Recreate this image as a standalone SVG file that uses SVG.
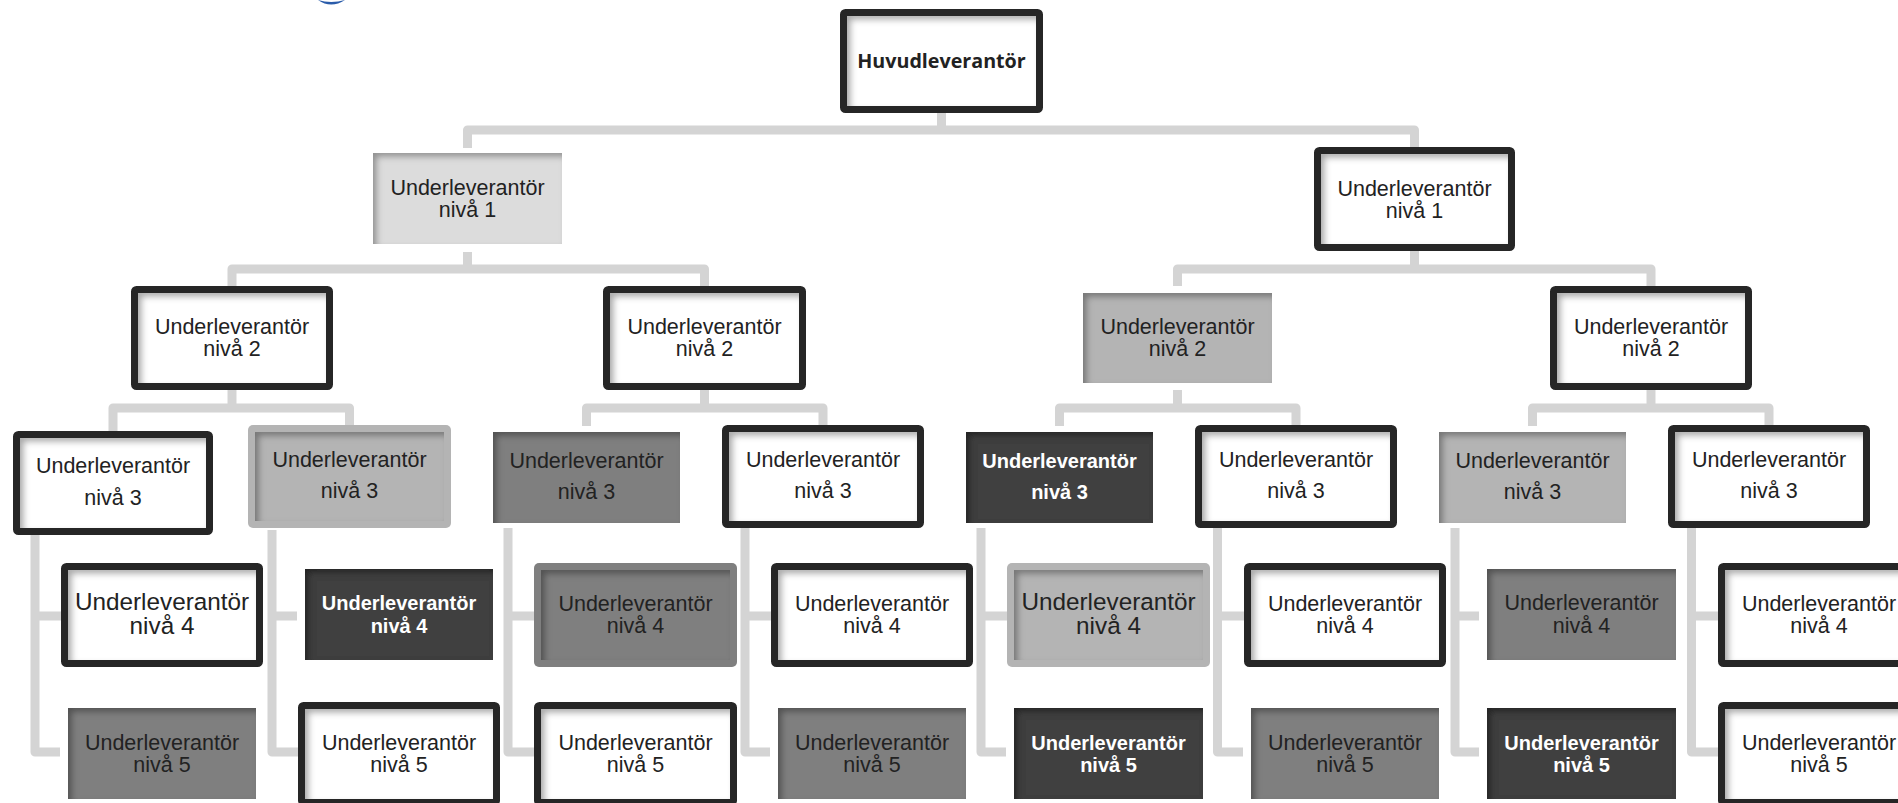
<svg xmlns="http://www.w3.org/2000/svg" width="1898" height="803" viewBox="0 0 1898 803">
<defs>
<filter id="inset" x="-10%" y="-10%" width="120%" height="120%">
<feFlood flood-color="#000" flood-opacity="0.6" result="f"/>
<feComposite in="f" in2="SourceAlpha" operator="out" result="o"/>
<feGaussianBlur in="o" stdDeviation="3" result="b"/>
<feOffset in="b" dx="4" dy="4" result="s"/>
<feComposite in="s" in2="SourceAlpha" operator="in" result="is"/>
<feMerge><feMergeNode in="SourceGraphic"/><feMergeNode in="is"/></feMerge>
</filter>
</defs>
<style>
.conn{fill:none;stroke:#d4d4d4;stroke-width:9;stroke-linejoin:round}
.bd{fill:none;stroke:#262626;stroke-width:7}
.in{filter:url(#inset)}
.w{fill:#fff}
.g1{fill:#dcdcdc}
.g2{fill:#b4b4b4}
.g3{fill:#7f7f7f}
.g4{fill:#404040}
.t{font-family:"Liberation Sans",Arial,sans-serif;font-size:21.5px;text-anchor:middle;fill:#222}
.big{font-size:24.3px}
.tw{fill:#fff;font-weight:bold;font-size:20px}
.hb{font-family:"Open Sans","Liberation Sans",Arial,sans-serif;font-weight:bold;font-size:19.7px;text-anchor:middle;fill:#222}
</style>
<rect width="1898" height="803" fill="#fff"/>
<path d="M318 0 Q331 9 345 0 Q331 4 318 0Z" fill="#2a5caa"/>
<g id="connectors">
<path class="conn" d="M941.5 113 V130"/>
<path class="conn" d="M467.5 148 V130 H1414.5 V150"/>
<path class="conn" d="M467.5 252 V269"/>
<path class="conn" d="M232 290 V269 H704.5 V290"/>
<path class="conn" d="M1414.5 251 V269"/>
<path class="conn" d="M1177.5 286 V269 H1651 V290"/>
<path class="conn" d="M232 390 V408"/>
<path class="conn" d="M113 433 V408 H349.5 V428"/>
<path class="conn" d="M704.5 390 V408"/>
<path class="conn" d="M586.5 426 V408 H823 V428"/>
<path class="conn" d="M1177.5 390 V408"/>
<path class="conn" d="M1059.5 426 V408 H1296 V428"/>
<path class="conn" d="M1651 390 V408"/>
<path class="conn" d="M1532.5 426 V408 H1769 V428"/>
<path class="conn" d="M35 535 V752 H60 M35 616 H63"/>
<path class="conn" d="M272 530 V752 H300 M272 616 H297"/>
<path class="conn" d="M508 528 V752 H536 M508 616 H536"/>
<path class="conn" d="M745 528 V752 H770 M745 616 H773"/>
<path class="conn" d="M981 528 V752 H1006 M981 616 H1009"/>
<path class="conn" d="M1217.5 528 V752 H1243 M1217.5 616 H1246"/>
<path class="conn" d="M1455 528 V752 H1479 M1455 616 H1479"/>
<path class="conn" d="M1691.5 528 V752 H1720 M1691.5 616 H1720"/>
</g>
<g id="huvud">
<rect class="w in" x="847" y="16" width="189" height="90"/>
<rect class="bd" x="843.5" y="12.5" width="196" height="97" rx="2"/>
<text class="hb" x="941.5" y="68">Huvudleverantör</text>
</g>
<g id="n1a">
<rect class="g1 in" x="373" y="153" width="189" height="91"/>
<text class="t" x="467.5" y="195">Underleverantör</text><text class="t" x="467.5" y="217">nivå 1</text>
</g>
<g id="n1b">
<rect class="w in" x="1321" y="154" width="187" height="90"/>
<rect class="bd" x="1317.5" y="150.5" width="194" height="97" rx="2"/>
<text class="t" x="1414.5" y="195.5">Underleverantör</text><text class="t" x="1414.5" y="217.5">nivå 1</text>
</g>
<g id="n2a">
<rect class="w in" x="138" y="293" width="188" height="90"/>
<rect class="bd" x="134.5" y="289.5" width="195" height="97" rx="2"/>
<text class="t" x="232" y="334">Underleverantör</text><text class="t" x="232" y="356">nivå 2</text>
</g>
<g id="n2b">
<rect class="w in" x="610" y="293" width="189" height="90"/>
<rect class="bd" x="606.5" y="289.5" width="196" height="97" rx="2"/>
<text class="t" x="704.5" y="334">Underleverantör</text><text class="t" x="704.5" y="356">nivå 2</text>
</g>
<g id="n2c">
<rect class="g2 in" x="1083" y="293" width="189" height="90"/>
<text class="t" x="1177.5" y="334">Underleverantör</text><text class="t" x="1177.5" y="356">nivå 2</text>
</g>
<g id="n2d">
<rect class="w in" x="1557" y="293" width="188" height="90"/>
<rect class="bd" x="1553.5" y="289.5" width="195" height="97" rx="2"/>
<text class="t" x="1651" y="334">Underleverantör</text><text class="t" x="1651" y="356">nivå 2</text>
</g>
<g id="n3a1">
<rect class="w in" x="20" y="438" width="186" height="90"/>
<rect class="bd" x="16.5" y="434.5" width="193" height="97" rx="2"/>
<text class="t" x="113" y="473">Underleverantör</text><text class="t" x="113" y="505">nivå 3</text>
</g>
<g id="n3a2">
<rect class="g2" x="248" y="425" width="203" height="103" rx="5"/>
<rect class="g2 in" x="255" y="432" width="189" height="89"/>
<text class="t" x="349.5" y="467">Underleverantör</text><text class="t" x="349.5" y="498">nivå 3</text>
</g>
<g id="n3b1">
<rect class="g3 in" x="493" y="432" width="187" height="91"/>
<text class="t" x="586.5" y="467.5">Underleverantör</text><text class="t" x="586.5" y="498.5">nivå 3</text>
</g>
<g id="n3b2">
<rect class="w in" x="729" y="432" width="188" height="89"/>
<rect class="bd" x="725.5" y="428.5" width="195" height="96" rx="2"/>
<text class="t" x="823" y="467">Underleverantör</text><text class="t" x="823" y="498">nivå 3</text>
</g>
<g id="n3c1">
<rect class="g4 in" x="966" y="432" width="187" height="91"/>
<text class="t tw" x="1059.5" y="467.5">Underleverantör</text><text class="t tw" x="1059.5" y="498.5">nivå 3</text>
</g>
<g id="n3c2">
<rect class="w in" x="1202" y="432" width="188" height="89"/>
<rect class="bd" x="1198.5" y="428.5" width="195" height="96" rx="2"/>
<text class="t" x="1296" y="467">Underleverantör</text><text class="t" x="1296" y="498">nivå 3</text>
</g>
<g id="n3d1">
<rect class="g2 in" x="1439" y="432" width="187" height="91"/>
<text class="t" x="1532.5" y="467.5">Underleverantör</text><text class="t" x="1532.5" y="498.5">nivå 3</text>
</g>
<g id="n3d2">
<rect class="w in" x="1675" y="432" width="188" height="89"/>
<rect class="bd" x="1671.5" y="428.5" width="195" height="96" rx="2"/>
<text class="t" x="1769" y="467">Underleverantör</text><text class="t" x="1769" y="498">nivå 3</text>
</g>
<g id="n4a1">
<rect class="w in" x="68" y="570" width="188" height="90"/>
<rect class="bd" x="64.5" y="566.5" width="195" height="97" rx="2"/>
<text class="t big" x="162" y="610">Underleverantör</text><text class="t big" x="162" y="634">nivå 4</text>
</g>
<g id="n4a2">
<rect class="g4 in" x="305" y="569" width="188" height="91"/>
<text class="t tw" x="399" y="610">Underleverantör</text><text class="t tw" x="399" y="632.5">nivå 4</text>
</g>
<g id="n4b1">
<rect class="g3" x="534" y="563" width="203" height="104" rx="5"/>
<rect class="g3 in" x="541" y="570" width="189" height="90"/>
<text class="t" x="635.5" y="610.5">Underleverantör</text><text class="t" x="635.5" y="633">nivå 4</text>
</g>
<g id="n4b2">
<rect class="w in" x="778" y="570" width="188" height="90"/>
<rect class="bd" x="774.5" y="566.5" width="195" height="97" rx="2"/>
<text class="t" x="872" y="610.5">Underleverantör</text><text class="t" x="872" y="633">nivå 4</text>
</g>
<g id="n4c1">
<rect class="g2" x="1007" y="563" width="203" height="104" rx="5"/>
<rect class="g2 in" x="1014" y="570" width="189" height="90"/>
<text class="t big" x="1108.5" y="610">Underleverantör</text><text class="t big" x="1108.5" y="634">nivå 4</text>
</g>
<g id="n4c2">
<rect class="w in" x="1251" y="570" width="188" height="90"/>
<rect class="bd" x="1247.5" y="566.5" width="195" height="97" rx="2"/>
<text class="t" x="1345" y="610.5">Underleverantör</text><text class="t" x="1345" y="633">nivå 4</text>
</g>
<g id="n4d1">
<rect class="g3 in" x="1487" y="569" width="189" height="91"/>
<text class="t" x="1581.5" y="610">Underleverantör</text><text class="t" x="1581.5" y="632.5">nivå 4</text>
</g>
<g id="n4d2">
<rect class="w in" x="1725" y="570" width="188" height="90"/>
<rect class="bd" x="1721.5" y="566.5" width="195" height="97" rx="2"/>
<text class="t" x="1819" y="610.5">Underleverantör</text><text class="t" x="1819" y="633">nivå 4</text>
</g>
<g id="n5a1">
<rect class="g3 in" x="68" y="708" width="188" height="91"/>
<text class="t" x="162" y="749.5">Underleverantör</text><text class="t" x="162" y="771.5">nivå 5</text>
</g>
<g id="n5a2">
<rect class="w in" x="305" y="709" width="188" height="90"/>
<rect class="bd" x="301.5" y="705.5" width="195" height="97" rx="2"/>
<text class="t" x="399" y="750">Underleverantör</text><text class="t" x="399" y="772">nivå 5</text>
</g>
<g id="n5b1">
<rect class="w in" x="541" y="709" width="189" height="90"/>
<rect class="bd" x="537.5" y="705.5" width="196" height="97" rx="2"/>
<text class="t" x="635.5" y="750">Underleverantör</text><text class="t" x="635.5" y="772">nivå 5</text>
</g>
<g id="n5b2">
<rect class="g3 in" x="778" y="708" width="188" height="91"/>
<text class="t" x="872" y="749.5">Underleverantör</text><text class="t" x="872" y="771.5">nivå 5</text>
</g>
<g id="n5c1">
<rect class="g4 in" x="1014" y="708" width="189" height="91"/>
<text class="t tw" x="1108.5" y="749.5">Underleverantör</text><text class="t tw" x="1108.5" y="771.5">nivå 5</text>
</g>
<g id="n5c2">
<rect class="g3 in" x="1251" y="708" width="188" height="91"/>
<text class="t" x="1345" y="749.5">Underleverantör</text><text class="t" x="1345" y="771.5">nivå 5</text>
</g>
<g id="n5d1">
<rect class="g4 in" x="1487" y="708" width="189" height="91"/>
<text class="t tw" x="1581.5" y="749.5">Underleverantör</text><text class="t tw" x="1581.5" y="771.5">nivå 5</text>
</g>
<g id="n5d2">
<rect class="w in" x="1725" y="709" width="188" height="90"/>
<rect class="bd" x="1721.5" y="705.5" width="195" height="97" rx="2"/>
<text class="t" x="1819" y="750">Underleverantör</text><text class="t" x="1819" y="772">nivå 5</text>
</g>
</svg>
